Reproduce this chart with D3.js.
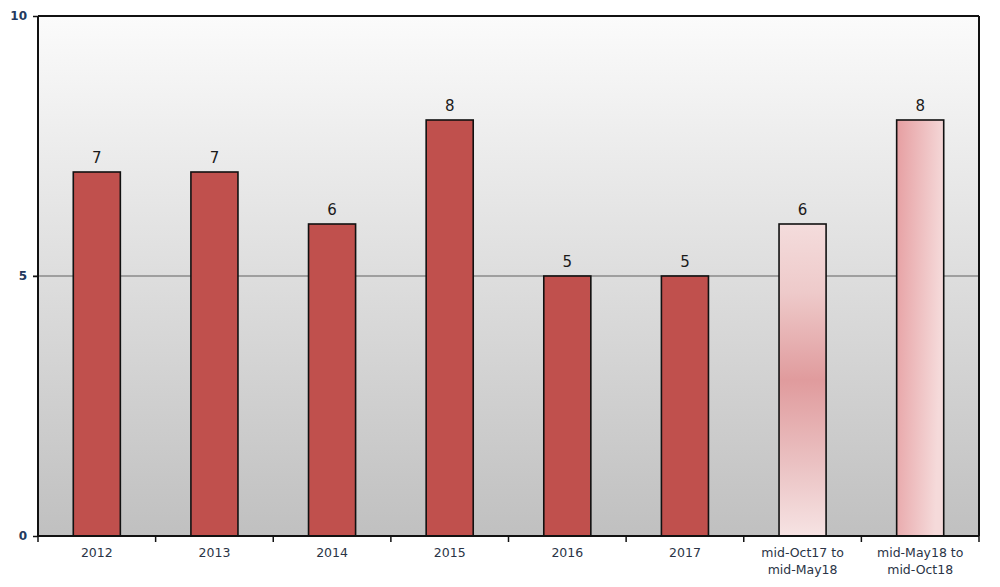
<!DOCTYPE html>
<html>
<head>
<meta charset="utf-8">
<script src="https://cdn.jsdelivr.net/npm/d3@7"></script>
<style>
  html, body { margin: 0; padding: 0; background: #ffffff; }
  svg { display: block; }
</style>
</head>
<body>
<svg id="chart" width="1000" height="587"></svg>
<script>
// ---- data ----
const categories = ["2012", "2013", "2014", "2015", "2016", "2017", "mid-Oct17 to\nmid-May18", "mid-May18 to\nmid-Oct18"];
const values = [7, 7, 6, 8, 5, 5, 6, 8];
const yTicks = [0, 5, 10];

// ---- layout ----
const W = 1000, H = 587;
const margin = { left: 38, right: 21, top: 16, bottom: 51 };
const iw = W - margin.left - margin.right;
const ih = H - margin.top - margin.bottom;

const svg = d3.select("#chart");
const defs = svg.append("defs");

// background gradient
const bg = defs.append("linearGradient").attr("id", "bgGrad").attr("x1", 0).attr("y1", 0).attr("x2", 0).attr("y2", 1);
bg.append("stop").attr("offset", "0%").attr("stop-color", "#fbfbfb");
bg.append("stop").attr("offset", "100%").attr("stop-color", "#c0c0c0");

// vertical gradient for bar 7 (dark in the middle)
const rg = defs.append("linearGradient").attr("id", "barMid").attr("x1", 0).attr("y1", 0).attr("x2", 0).attr("y2", 1);
rg.append("stop").attr("offset", "0%").attr("stop-color", "#f4dcdc");
rg.append("stop").attr("offset", "22%").attr("stop-color", "#eecaca");
rg.append("stop").attr("offset", "50%").attr("stop-color", "#e09b9d");
rg.append("stop").attr("offset", "78%").attr("stop-color", "#ebc3c4");
rg.append("stop").attr("offset", "100%").attr("stop-color", "#f6e3e3");

// linear horizontal gradient for bar 8
const lg = defs.append("linearGradient").attr("id", "barLinear").attr("x1", 0).attr("y1", 0).attr("x2", 1).attr("y2", 0.25);
lg.append("stop").attr("offset", "0%").attr("stop-color", "#e69ea1");
lg.append("stop").attr("offset", "100%").attr("stop-color", "#f5dada");

const g = svg.append("g").attr("transform", `translate(${margin.left},${margin.top})`);

const x = d3.scaleBand().domain(categories).range([0, iw]).paddingInner(0.6).paddingOuter(0.3);
const xb = d3.scaleBand().domain(categories).range([0, iw]).padding(0);
const y = d3.scaleLinear().domain([0, 10]).range([ih, 0]);

// plot background
g.append("rect").attr("x", 0).attr("y", 0).attr("width", iw).attr("height", ih).attr("fill", "url(#bgGrad)");

// gridline at 5
g.selectAll(".grid").data(yTicks.filter(t => t > 0 && t < 10)).enter().append("line")
  .attr("x1", -5).attr("x2", iw).attr("y1", d => y(d)).attr("y2", d => y(d))
  .attr("stroke", "#8a8a8a").attr("stroke-width", 1.5);

// bars
const fills = values.map((v, i) => i === 6 ? "url(#barMid)" : i === 7 ? "url(#barLinear)" : "#c0504d");
g.selectAll(".bar").data(values).enter().append("rect")
  .attr("x", (d, i) => x(categories[i]))
  .attr("y", d => y(d))
  .attr("width", x.bandwidth())
  .attr("height", d => ih - y(d))
  .attr("fill", (d, i) => fills[i])
  .attr("stroke", "#111").attr("stroke-width", 1.6);

// value labels
g.selectAll(".val").data(values).enter().append("text")
  .attr("x", (d, i) => x(categories[i]) + x.bandwidth() / 2)
  .attr("y", d => y(d) - 9)
  .attr("text-anchor", "middle")
  .attr("font-family", "DejaVu Sans, Verdana, sans-serif")
  .attr("font-size", 15)
  .attr("fill", "#1a1a1a")
  .text(d => d);

// frame: top and right
g.append("line").attr("x1", 0).attr("x2", iw).attr("y1", 0).attr("y2", 0).attr("stroke", "#111").attr("stroke-width", 2);
g.append("line").attr("x1", iw).attr("x2", iw).attr("y1", 0).attr("y2", ih).attr("stroke", "#111").attr("stroke-width", 2);

// y axis
const yAxis = d3.axisLeft(y).tickValues(yTicks).tickSize(5).tickFormat(d3.format("d"));
const ya = g.append("g").call(yAxis);
ya.select(".domain").attr("stroke", "#111").attr("stroke-width", 2).attr("d", `M0,${ih}V0`);
ya.selectAll(".tick line").attr("stroke", "#111").attr("stroke-width", 1.5);
ya.selectAll(".tick text").attr("font-family", "DejaVu Sans, Verdana, sans-serif").attr("font-size", 12)
  .attr("font-weight", "bold").attr("fill", "#23395e").attr("x", -11);

// x axis (ticks at band boundaries)
const xa = g.append("g").attr("transform", `translate(0,${ih})`);
xa.append("line").attr("x1", 0).attr("x2", iw).attr("stroke", "#111").attr("stroke-width", 2);
const bounds = categories.map(c => xb(c)).concat([iw]);
xa.selectAll(".xt").data(bounds).enter().append("line")
  .attr("x1", d => d).attr("x2", d => d).attr("y1", 0).attr("y2", 6)
  .attr("stroke", "#111").attr("stroke-width", 1.5);

const xl = xa.selectAll(".xl").data(categories).enter().append("text")
  .attr("x", d => xb(d) + xb.bandwidth() / 2)
  .attr("y", 21)
  .attr("text-anchor", "middle")
  .attr("font-family", "DejaVu Sans, Verdana, sans-serif")
  .attr("font-size", 12.5)
  .attr("fill", "#2a3446");
xl.each(function(d) {
  const lines = d.split("\n");
  const t = d3.select(this);
  lines.forEach((ln, i) => {
    t.append("tspan").attr("x", xb(d) + xb.bandwidth() / 2).attr("dy", i === 0 ? 0 : 17).text(ln);
  });
});
</script>
</body>
</html>
